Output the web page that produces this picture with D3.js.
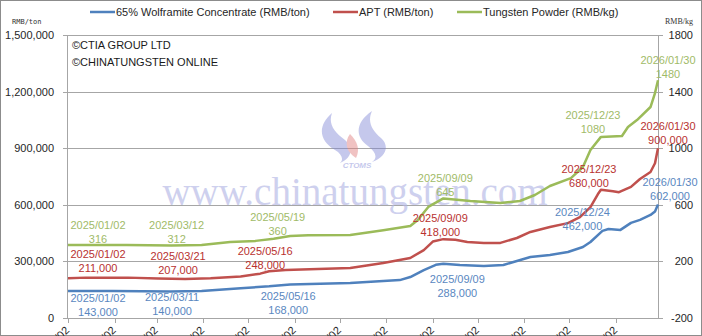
<!DOCTYPE html>
<html>
<head>
<meta charset="utf-8">
<script src="https://cdn.jsdelivr.net/npm/d3@7"></script>
<style>
  body { margin: 0; background: #fff; }
  text { font-family: "Liberation Sans", Arial, sans-serif; }
</style>
</head>
<body>
<svg id="chart" width="702" height="336"></svg>
<script>
// ---- data ----
var wolframiteDates = ["2025-01-02","2025-02-01","2025-03-11","2025-04-01","2025-04-27","2025-05-16","2025-05-30","2025-07-09","2025-07-31","2025-08-11","2025-08-18","2025-08-27","2025-09-04","2025-09-09","2025-09-20","2025-10-06","2025-10-19","2025-10-28","2025-11-06","2025-11-19","2025-12-01","2025-12-11","2025-12-16","2025-12-24","2025-12-28","2026-01-05","2026-01-12","2026-01-18","2026-01-25","2026-01-28","2026-01-30"];
var wolframiteValues = [143000,143000,140000,143000,158000,168000,178000,185000,196000,201000,217000,254000,282000,288000,281000,276000,281000,302000,323000,334000,350000,376000,403000,462000,472000,467000,504000,520000,546000,565000,602000];

var aptDates = ["2025-01-02","2025-01-14","2025-02-11","2025-03-03","2025-03-21","2025-04-07","2025-04-27","2025-05-10","2025-05-16","2025-05-27","2025-07-09","2025-07-31","2025-08-18","2025-08-27","2025-09-02","2025-09-09","2025-09-17","2025-09-25","2025-10-06","2025-10-17","2025-10-28","2025-11-06","2025-11-19","2025-12-01","2025-12-09","2025-12-16","2025-12-21","2025-12-23","2025-12-31","2026-01-04","2026-01-12","2026-01-18","2026-01-25","2026-01-28","2026-01-30"];
var aptValues = [211000,214000,214000,210000,207000,211000,220000,235000,248000,255000,265000,291000,318000,360000,405000,418000,415000,403000,398000,398000,424000,456000,482000,503000,535000,588000,657000,680000,672000,667000,695000,737000,774000,820000,900000];

var powderDates = ["2025-01-02","2025-02-10","2025-03-12","2025-04-01","2025-04-20","2025-05-07","2025-05-19","2025-05-30","2025-06-11","2025-07-09","2025-07-31","2025-08-18","2025-08-23","2025-08-30","2025-09-09","2025-09-27","2025-10-17","2025-10-30","2025-11-09","2025-11-19","2025-12-03","2025-12-11","2025-12-16","2025-12-23","2026-01-06","2026-01-10","2026-01-16","2026-01-25","2026-01-28","2026-01-30"];
var powderValues = [316,316,312,316,337,345,360,380,385,387,420,450,493,585,645,627,613,627,669,733,789,867,987,1080,1086,1150,1199,1291,1390,1480];

var leftTicks = [0,300000,600000,900000,1200000,1500000];
var rightTicks = [-200,200,600,1000,1400,1800];
var xTickDates = ["2025-01-02","2025-02-02","2025-03-02","2025-04-02","2025-05-02","2025-06-02","2025-07-02","2025-08-02","2025-09-02","2025-10-02","2025-11-02","2025-12-02","2026-01-02"];

var seriesNames = ["65% Wolframite Concentrate (RMB/ton)","APT (RMB/ton)","Tungsten Powder (RMB/kg)"];
var seriesColors = ["#4f81bd","#c0504d","#9bbb59"];
var labelColors = ["#5a87bf","#b8312f","#9fbb68"];

// callouts: series index, date, value
var annSeries = [2,2,2,2,2,2, 1,1,1,1,1,1, 0,0,0,0,0,0];
var annDates = ["2025-01-02","2025-03-12","2025-05-19","2025-09-09","2025-12-23","2026-01-30",
                "2025-01-02","2025-03-21","2025-05-16","2025-09-09","2025-12-23","2026-01-30",
                "2025-01-02","2025-03-11","2025-05-16","2025-09-09","2025-12-24","2026-01-30"];
var annValues = [316,312,360,645,1080,1480,
                 211000,207000,248000,418000,680000,900000,
                 143000,140000,168000,288000,462000,602000];

// ---- drawing ----
var svg = d3.select("#chart"), width = 702, height = 336;
var parse = d3.timeParse("%Y-%m-%d");
var fmtDate = d3.timeFormat("%Y/%m/%d");
var fmtNum = d3.format(",");

var x = d3.scaleTime()
    .domain([parse("2025-01-02"), parse("2026-01-30")])
    .range([68, 658]);
var yLeft = d3.scaleLinear().domain([0, 1500000]).range([318, 35]);
var yRight = d3.scaleLinear().domain([-200, 1800]).range([318, 35]);

svg.append("rect")
    .attr("x", 0.5).attr("y", 0.5)
    .attr("width", width - 1).attr("height", height - 1)
    .attr("fill", "#fff").attr("stroke", "#8c8c8c");

// gridlines
svg.append("g")
    .selectAll("line")
    .data(leftTicks)
    .enter()
    .append("line")
    .attr("x1", 63).attr("x2", 658)
    .attr("y1", d => Math.round(yLeft(d)) + 0.5)
    .attr("y2", d => Math.round(yLeft(d)) + 0.5)
    .attr("stroke", "#a6a6a6");

// watermark
svg.append("text")
    .attr("x", 355).attr("y", 205)
    .attr("text-anchor", "middle")
    .style("font-family", "'Liberation Serif', 'Times New Roman', serif")
    .style("font-size", "39px")
    .attr("fill", "#b4b8e6")
    .attr("opacity", 0.65)
    .text("www.chinatungsten.com");

var logo = svg.append("g").attr("opacity", 0.45);
logo.append("path")
    .attr("d", "M332,113 C318,125 318,140 335,150 C342,154 344,160 340,163 C352,158 354,148 345,140 C334,132 328,124 332,113 Z")
    .attr("fill", "#7f86d6");
logo.append("path")
    .attr("d", "M372,111 C356,122 354,136 368,146 C376,152 378,158 372,162 C386,157 390,146 381,138 C372,130 367,122 372,111 Z")
    .attr("fill", "#7f86d6");
logo.append("path")
    .attr("d", "M350,134 C344,142 346,152 356,158 C360,150 358,142 350,134 Z")
    .attr("fill", "#e07a7a");
logo.append("text")
    .attr("x", 357).attr("y", 168)
    .attr("text-anchor", "middle")
    .style("font-size", "8px").style("font-style", "italic").style("font-weight", "bold")
    .attr("fill", "#7f86d6")
    .text("CTOMS");

// axes lines
svg.append("line").attr("x1", 67.5).attr("x2", 67.5).attr("y1", 35).attr("y2", 318).attr("stroke", "#a6a6a6");
svg.append("line").attr("x1", 658.5).attr("x2", 658.5).attr("y1", 35).attr("y2", 318).attr("stroke", "#a6a6a6");
svg.append("line").attr("x1", 658).attr("x2", 663).attr("y1", 35.5).attr("y2", 35.5).attr("stroke", "#a6a6a6");

svg.append("g")
    .selectAll("line")
    .data(rightTicks)
    .enter()
    .append("line")
    .attr("x1", 658).attr("x2", 663)
    .attr("y1", d => Math.round(yRight(d)) + 0.5)
    .attr("y2", d => Math.round(yRight(d)) + 0.5)
    .attr("stroke", "#a6a6a6");

// left labels
svg.append("g")
    .selectAll("text")
    .data(leftTicks)
    .enter()
    .append("text")
    .attr("x", 54)
    .attr("y", d => yLeft(d) + 4)
    .attr("text-anchor", "end")
    .style("font-size", "11px")
    .attr("fill", "#262626")
    .text(d => fmtNum(d));

// right labels
svg.append("g")
    .selectAll("text")
    .data(rightTicks)
    .enter()
    .append("text")
    .attr("x", 693)
    .attr("y", d => yRight(d) + 4)
    .attr("text-anchor", "end")
    .style("font-size", "11px")
    .attr("fill", "#262626")
    .text(d => d);

svg.append("text").attr("x", 12).attr("y", 24)
    .style("font-family", "'DejaVu Sans Mono', monospace").style("font-size", "7px")
    .attr("fill", "#333").text("RMB/ton");
svg.append("text").attr("x", 665).attr("y", 24)
    .style("font-family", "'Liberation Serif', serif").style("font-size", "8px")
    .attr("fill", "#333").text("RMB/kg");

// x axis
var xTicks = xTickDates.map(parse);
svg.append("line").attr("x1", 67).attr("x2", 658).attr("y1", 318.5).attr("y2", 318.5).attr("stroke", "#a6a6a6");
svg.append("g")
    .selectAll("line")
    .data(xTicks)
    .enter()
    .append("line")
    .attr("x1", d => Math.round(x(d)) + 0.5)
    .attr("x2", d => Math.round(x(d)) + 0.5)
    .attr("y1", 318).attr("y2", 323)
    .attr("stroke", "#a6a6a6");
svg.append("g")
    .selectAll("text")
    .data(xTicks)
    .enter()
    .append("text")
    .attr("text-anchor", "end")
    .attr("transform", d => "translate(" + (x(d) + 2) + ",331) rotate(-45)")
    .style("font-size", "11px")
    .attr("fill", "#262626")
    .text(d => fmtDate(d));

// series
var seriesData = [
    wolframiteDates.map((d, i) => ({date: parse(d), value: wolframiteValues[i]})),
    aptDates.map((d, i) => ({date: parse(d), value: aptValues[i]})),
    powderDates.map((d, i) => ({date: parse(d), value: powderValues[i]}))
];
var seriesScale = [yLeft, yLeft, yRight];

svg.append("g")
    .selectAll("path")
    .data(seriesData)
    .enter()
    .append("path")
    .attr("fill", "none")
    .attr("stroke", (d, i) => seriesColors[i])
    .attr("stroke-width", 2.5)
    .attr("stroke-linejoin", "round")
    .attr("d", function (d, i) {
        return d3.line()
            .x(p => x(p.date))
            .y(p => seriesScale[i](p.value))(d);
    });

// callouts
var annOffsets = [[30,-20],[5,-21],[4,-22],[2,-20],[-8,-22],[10,-20],
                  [30,-24],[-7,-23],[-4,-20],[-3,-21],[-12,-21],[10,-22],
                  [30,7],[2,5],[19,10],[14,15],[-20,-19],[12,-22]];
var ann = svg.append("g");
annDates.forEach(function (d, i) {
    var s = annSeries[i];
    var px = x(parse(d)) + annOffsets[i][0];
    var py = seriesScale[s](annValues[i]) + annOffsets[i][1];
    var t = ann.append("text")
        .attr("text-anchor", "middle")
        .style("font-size", "11px")
        .attr("fill", labelColors[s]);
    t.append("tspan").attr("x", px).attr("y", py + 4).text(fmtDate(parse(d)));
    t.append("tspan").attr("x", px).attr("y", py + 18).text(s == 2 ? annValues[i] : fmtNum(annValues[i]));
});

// copyright
svg.append("text").attr("x", 72).attr("y", 49).style("font-size", "11px").attr("fill", "#1a1a1a").text("©CTIA GROUP LTD");
svg.append("text").attr("x", 72).attr("y", 66).style("font-size", "11px").attr("fill", "#1a1a1a").text("©CHINATUNGSTEN ONLINE");

// legend
var legendX = [90, 333, 457];
var legend = svg.append("g")
    .selectAll("g")
    .data(seriesNames)
    .enter()
    .append("g")
    .attr("transform", (d, i) => "translate(" + legendX[i] + ",12)");
legend.append("line")
    .attr("x1", 0).attr("x2", 25)
    .attr("stroke", (d, i) => seriesColors[i])
    .attr("stroke-width", 2.5);
legend.append("text")
    .attr("x", 26).attr("y", 4)
    .style("font-size", "11px")
    .attr("fill", "#262626")
    .text(d => d);
</script>
</body>
</html>
